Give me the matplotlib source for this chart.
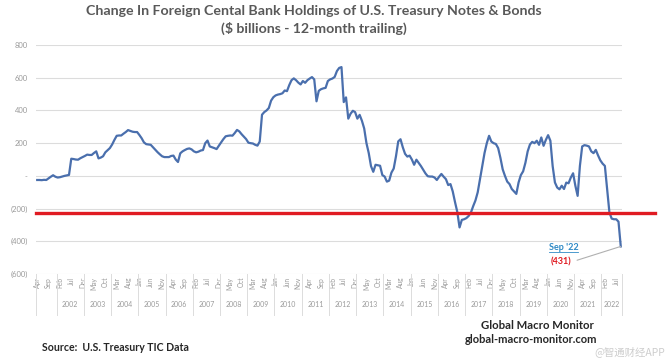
"""
Foreign central bank holdings of U.S. Treasury notes & bonds,
12-month trailing change ($ billions), Apr 2001 - Sep 2022.
"""
import matplotlib
matplotlib.use("Agg")
import matplotlib.pyplot as plt
import matplotlib.transforms as mtransforms
import pandas as pd
from matplotlib.ticker import FuncFormatter

plt.rcParams["font.family"] = ["Lato", "DejaVu Sans"]

GRAY_TXT, GRID, BLUE, RED = "#9a9a9a", "#dcdcdc", "#4a6fad", "#e01b22"

START = "2001-04"
# monthly values, one row per year
change_bn = [
    -25, -25, -26, -24, -25, -15, -5, 4, -5,                      # 2001 Apr-Dec
    -10, -8, -4, 0, 3, 6, 105, 103, 100, 99, 108, 115,            # 2002
    122, 130, 128, 128, 140, 150, 107, 112, 120, 144, 157, 170,   # 2003
    192, 220, 245, 247, 247, 258, 268, 280, 275, 270, 268, 268,   # 2004
    250, 230, 205, 194, 192, 190, 175, 160, 145, 132, 120, 115,   # 2005
    115, 115, 122, 124, 100, 85, 138, 150, 158, 165, 168, 162,    # 2006
    150, 144, 148, 155, 158, 200, 216, 180, 175, 170, 164, 185,   # 2007
    205, 225, 242, 245, 247, 246, 262, 281, 272, 255, 240, 225,   # 2008
    203, 200, 198, 190, 185, 210, 374, 390, 400, 415, 460, 481,   # 2009
    492, 497, 500, 505, 522, 518, 555, 585, 596, 585, 570, 559,   # 2010
    580, 569, 585, 595, 604, 590, 456, 520, 530, 535, 538, 580,   # 2011
    590, 595, 605, 641, 660, 665, 451, 480, 350, 380, 398, 390,   # 2012
    350, 373, 337, 290, 200, 140, 60, 25, 68, 65, 62, 5,          # 2013
    -4, -35, -29, 20, 45, 120, 211, 224, 175, 135, 118, 124,      # 2014
    100, 68, 99, 80, 60, 38, 15, -2, -4, -4, -10, -25,            # 2015
    -5, 12, -5, -20, -56, -50, -95, -160, -220, -315, -269, -265, # 2016
    -258, -245, -224, -185, -150, -100, -20, 60, 140, 200, 245, 210,  # 2017
    200, 195, 170, 110, 40, 0, -35, -50, -80, -95, -110, -40,     # 2018
    5, 28, 80, 150, 192, 208, 200, 215, 190, 235, 184, 220,       # 2019
    249, 215, 60, -40, -71, -82, -60, -80, -41, -45, -10, 16,     # 2020
    -60, -122, 61, 180, 188, 185, 180, 150, 139, 159, 125, 95,    # 2021
    75, 61, -82, -224, -261, -265, -265, -280, -431,              # 2022 Jan-Sep
]
RED_LEVEL = -226
LAST_DATE, LAST_TXT = "Sep '22", "(431)"
Y_TICKS = [800, 600, 400, 200, 0, -200, -400, -600]

meses = pd.period_range(START, periods=len(change_bn), freq="M")
x = list(range(len(meses)))


def fmt_contabil(v, _pos):
    if v == 0:
        return "-"
    return f"({abs(v):.0f})" if v < 0 else f"{v:.0f}"


fig = plt.figure(figsize=(6.68, 3.63), dpi=100)
ax = fig.add_axes([0.054, 0.245, 0.877, 0.631])

ax.plot(x, change_bn, color=BLUE, lw=1.6, solid_joinstyle="round", zorder=3)
ax.axhline(RED_LEVEL, xmin=0, xmax=1.057, color=RED, lw=2.4, clip_on=False, zorder=4)

ax.set_xlim(-0.5, len(x) - 0.5)
ax.set_ylim(-600, 800)
ax.set_yticks(Y_TICKS)
ax.yaxis.set_major_formatter(FuncFormatter(fmt_contabil))
ax.grid(axis="y", color=GRID, lw=0.8)
ax.set_axisbelow(True)
for s in ax.spines.values():
    s.set_visible(False)
ax.tick_params(axis="y", length=0, labelsize=5.5, labelcolor=GRAY_TXT, pad=6)

# nível 1: meses, a cada 5
ticks = x[::5]
ax.set_xticks(ticks)
ax.set_xticklabels([meses[i].strftime("%b") for i in ticks], rotation=90,
                   fontsize=4.8)
ax.tick_params(axis="x", length=0, labelcolor=GRAY_TXT, pad=2)

# nível 2: anos, com divisórias
trans = mtransforms.blended_transform_factory(ax.transData, ax.transAxes)
bordas = [-0.5] + [i - 0.5 for i, m in enumerate(meses) if m.month == 1] + [len(x) - 0.5]
for b in bordas:
    ax.plot([b, b], [0, -0.18], transform=trans, color=GRID, lw=0.7, clip_on=False)
for ano in sorted({m.year for m in meses}):
    if ano == meses[0].year:
        continue
    idx = [i for i, m in enumerate(meses) if m.year == ano]
    ax.text(sum(idx) / len(idx), -0.135, str(ano), transform=trans, ha="center",
            va="center", fontsize=5, color=GRAY_TXT)

# rótulo do último ponto
ax.annotate(LAST_TXT, xy=(x[-1], change_bn[-1]), xytext=(230.8, -526),
            ha="center", va="center", fontsize=6.5, fontweight="bold", color=RED,
            arrowprops=dict(arrowstyle="-", color="#b0b0b0", lw=0.8,
                            relpos=(1, 0.5), shrinkA=2, shrinkB=0),
            annotation_clip=False)
ax.text(231.7, -440, LAST_DATE, ha="center", va="center", fontsize=6.5,
        fontweight="bold", color="#2f8ac6", clip_on=False)
ax.plot([225.3, 238.1], [-466, -466], color="#2f8ac6", lw=0.6, clip_on=False)

fig.text(0.47, 0.970, "Change In Foreign Cental Bank Holdings of U.S. Treasury Notes & Bonds",
         ha="center", va="center", fontsize=10.2, fontweight="bold", color="#595959")
fig.text(0.47, 0.923, "($ billions - 12-month trailing)", ha="center", va="center",
         fontsize=10.2, fontweight="bold", color="#595959")

fig.text(0.063, 0.044, "Source:  U.S. Treasury TIC Data", ha="left", va="center",
         fontsize=7.6, fontweight="bold", color="#262626")
fig.text(0.804, 0.102, "Global Macro Monitor", ha="center", va="center",
         fontsize=8.2, fontweight="bold", color="#262626")
fig.text(0.795, 0.064, "global-macro-monitor.com", ha="center", va="center",
         fontsize=8, fontweight="bold", color="#262626")
fig.text(0.942, 0.030, "@智通财经APP", ha="center", va="center", fontsize=7.5,
         color="#c8c8c8", alpha=0.9, family=["Noto Sans CJK SC", "DejaVu Sans"])

fig.savefig("out.png", dpi=100, facecolor="white")
